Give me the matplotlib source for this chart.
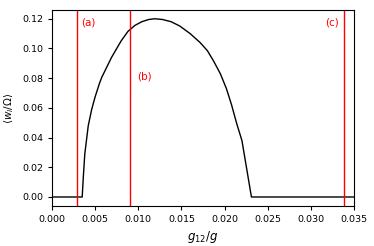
import numpy as np
import matplotlib.pyplot as plt

# curve
g12 = [0.0, 0.0035, 0.00363, 0.0038, 0.0042, 0.0046, 0.0050, 0.0055, 0.00576,
       0.0069, 0.0080, 0.0088, 0.0096, 0.0104, 0.0112, 0.0119, 0.0128,
       0.0138, 0.0148, 0.0160, 0.01715, 0.0180, 0.0187, 0.0195, 0.0202,
       0.0208, 0.0214, 0.0220, 0.0231, 0.035]
w = [0.0, 0.0, 0.0136, 0.029, 0.048, 0.059, 0.0675, 0.0765, 0.0805,
     0.094, 0.105, 0.1115, 0.1155, 0.1180, 0.1195, 0.1200, 0.1195,
     0.1180, 0.1151, 0.1100, 0.1040, 0.0985, 0.0917, 0.0830, 0.0730,
     0.0620, 0.0493, 0.0380, 0.0, 0.0]

# marked points
marks = [0.00286, 0.0090, 0.0338]
labels = ["(a)", "(b)", "(c)"]
label_x = [0.00417, 0.01066, 0.0324]
label_y = [0.1178, 0.081, 0.1175]

plt.rcParams["font.size"] = 6.8
fig, ax = plt.subplots(figsize=(3.74, 2.46), dpi=100)
fig.subplots_adjust(left=0.139, right=0.947, top=0.96, bottom=0.163)

ax.plot(g12, w, color="black", lw=1.0)
for xm in marks:
    ax.axvline(xm, color="red", lw=1.0)
for t, lx, ly in zip(labels, label_x, label_y):
    ax.text(lx, ly, t, color="red", fontsize=7.5, ha="center", va="center")

ax.set_xlim(0, 0.035)
ax.set_xticks(np.arange(0, 0.0351, 0.005))
ax.set_xlabel(r"$g_{12}/g$", fontsize=8.5)
ax.set_ylabel(r"$\langle w_l/\Omega\rangle$", fontsize=7.5)
ax.tick_params(labelsize=6.8, length=3)

fig.savefig("out.png", dpi=100)
